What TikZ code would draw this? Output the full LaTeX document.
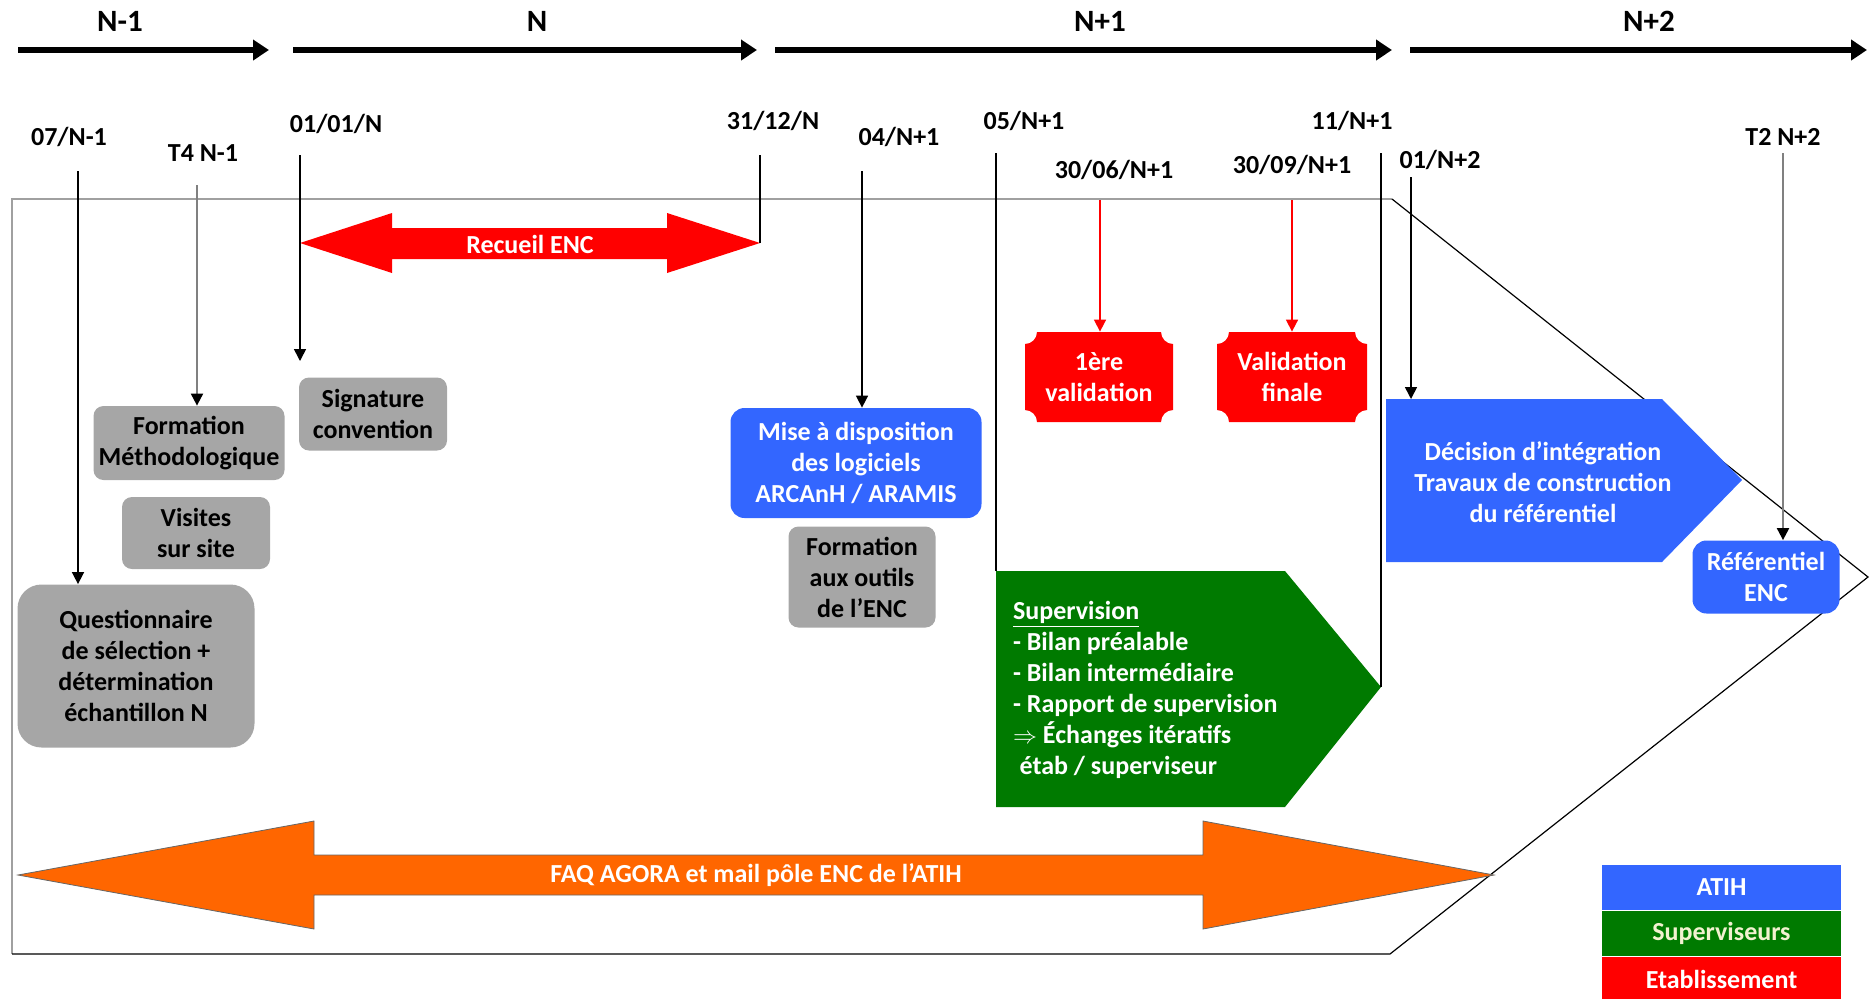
\documentclass[tikz,border=0pt]{standalone}
\usepackage{fontspec}
\setmainfont{Carlito}
\usetikzlibrary{arrows.meta, positioning}

\definecolor{atih}{HTML}{3366FF}
\definecolor{superv}{HTML}{007A00}
\definecolor{etab}{HTML}{FF0000}
\definecolor{faq}{HTML}{FF6600}
\definecolor{boxgray}{HTML}{A6A6A6}
\definecolor{framegray}{HTML}{A0A0A0}
\definecolor{cream}{HTML}{F2F2D0}

\newcommand\plaquebox[4]{%
  \fill[etab] ({#1+12},#2) -- ({#3-12},#2) arc[start angle=180,end angle=270,radius=6pt]
    -- (#3,{#4-12}) arc[start angle=90,end angle=180,radius=6pt]
    -- ({#1+12},#4) arc[start angle=0,end angle=90,radius=6pt]
    -- (#1,{#2+12}) arc[start angle=270,end angle=360,radius=6pt] -- cycle;}

\begin{document}
\begin{tikzpicture}[x=0.5pt, y=-0.5pt,
  every node/.style={font=\fontsize{13}{15.5}\selectfont\bfseries, align=center},
  yearlab/.style={font=\fontsize{15.5}{18}\selectfont\bfseries},
  period/.style={line width=3pt, -{Triangle[length=8pt,width=10pt]}},
  tick/.style={line width=0.8pt, -{Triangle[length=6pt,width=6pt]}},
  graytick/.style={line width=1pt, draw=gray, -{Triangle[length=6pt,width=6pt,color=black]}},
  plain/.style={line width=0.8pt},
  graybox/.style={fill=boxgray, rounded corners=5pt, inner sep=2pt},
  atihbox/.style={fill=atih, text=white, rounded corners=7pt},
  legend/.style={minimum width=119.5pt, minimum height=22.5pt, inner sep=0pt, text=white}]

  \useasboundingbox (0,0) rectangle (1874,998);

  \foreach \xa/\xb/\xl/\t [count=\i] in {18/269/120/N-1, 293/757/537/N, 775/1392/1100/N+1, 1410/1867/1649/N+2} {
    \draw[period] (\xa,50) -- (\xb,50);
    \node[yearlab] (year\i) at (\xl,21) {\t};
  }

  \draw[framegray, line width=1.2pt] (12,954) -- (12,199) -- (1392,199);
  \draw[line width=0.6pt] (1392,199) -- (1868,577) -- (1390,954) -- (12,954);

  \draw[fill=faq, draw=black!60, line width=0.4pt] (18,875) coordinate (faqL) -- (314,821) -- (314,855) -- (1203,855) -- (1203,821)
    -- (1494,875) coordinate (faqR) -- (1203,929) -- (1203,895) -- (314,895) -- (314,929) -- cycle;
  \node[text=white] (faq) at (756,875) {FAQ AGORA et mail pôle ENC de l’ATIH};

  \fill[etab] (300,243) coordinate (recL) -- (392,213) -- (392,228) -- (667,228) -- (667,213)
    -- (760,243) coordinate (recR) -- (667,273) -- (667,259) -- (392,259) -- (392,273) -- cycle;
  \node[text=white] (rec) at (530,244) {Recueil ENC};

  \node[graybox, minimum width=95.5pt, minimum height=37pt] (fmeth) at (189,443) {Formation\\Méthodologique};
  \node[graybox, minimum width=74pt, minimum height=36.5pt] (sig) at (373,414) {Signature\\convention};
  \node[graybox, minimum width=74pt, minimum height=36pt] (vis) at (196,533) {Visites\\sur site};
  \node[graybox, rounded corners=12pt, minimum width=118.5pt, minimum height=81.5pt] (quest) at (136,666)
    {Questionnaire\\de sélection +\\détermination\\échantillon N};
  \node[graybox, minimum width=73.5pt, minimum height=50.5pt] (fout) at (862,577) {Formation\\aux outils\\de l’ENC};

  \node[atihbox, minimum width=125.5pt, minimum height=55pt] (mise) at (856,463) {Mise à disposition\\des logiciels\\ARCAnH / ARAMIS};
  \node[atihbox, minimum width=73.5pt, minimum height=36.5pt] (ref) at (1766,577) {Référentiel\\ENC};

  \fill[atih] (1386,399) coordinate (decNW) -- (1662,399) -- (1742,480) -- (1662,562) -- (1386,562) -- cycle;
  \node[text=white] (dec) at (1543,482) {Décision d’intégration\\Travaux de construction\\du référentiel};

  \fill[superv] (996,571) coordinate (supNW) -- (1285,571) -- (1381,687) coordinate (supTip) -- (1285,807) -- (996,807) -- cycle;
  \node[text=white, anchor=west, align=left] (sup) at (1006,690)
    {\underline{Supervision}\\- Bilan préalable\\- Bilan intermédiaire\\- Rapport de supervision\\$\Rightarrow$ Échanges itératifs\\\hspace*{0.25em}étab / superviseur};

  \plaquebox{1025}{332}{1173}{422}
  \node[text=white, minimum width=74pt, minimum height=45pt] (val1) at (1099,377) {1ère\\validation};
  \plaquebox{1217}{332}{1367}{422}
  \node[text=white, minimum width=75pt, minimum height=45pt] (valf) at (1292,377) {Validation\\finale};

  \node[legend, fill=atih] (leg1) at (1721.5,887.5) {ATIH};
  \node[legend, fill=superv, text=cream, below=0pt of leg1] (leg2) {Superviseurs};
  \node[legend, fill=etab, below=0pt of leg2] (leg3) {Etablissement};

  \node (d07) at (69,137) {07/N-1};
  \node (dT4) at (203,153) {T4 N-1};
  \node (d0101) at (336,124) {01/01/N};
  \node (d3112) at (773,121) {31/12/N};
  \node (d04) at (899,137) {04/N+1};
  \node (d05) at (1024,121) {05/N+1};
  \node (d3006) at (1114,170) {30/06/N+1};
  \node (d3009) at (1292,165) {30/09/N+1};
  \node (d11) at (1352,121) {11/N+1};
  \node (d01n2) at (1440,160) {01/N+2};
  \node (dT2) at (1783,137) {T2 N+2};

  \coordinate (s07) at (78,171);
  \coordinate (sT4) at (197,185);
  \coordinate (s0101) at (300,155);
  \coordinate (e0101) at (300,361);
  \coordinate (s3112) at (760,155);
  \coordinate (s04) at (862,171);
  \coordinate (s05) at (996,153);
  \coordinate (s3006) at (1100,200);
  \coordinate (s3009) at (1292,200);
  \coordinate (s11) at (1381,153);
  \coordinate (s01n2) at (1411,177);
  \coordinate (sT2) at (1783,153);

  \draw[tick] (s07) -- (quest.north -| s07);
  \draw[graytick] (sT4) -- (fmeth.north -| sT4);
  \draw[tick] (s0101) -- (e0101);
  \draw[plain] (s3112) -- (recR);
  \draw[tick] (s04) -- (mise.north -| s04);
  \draw[plain] (s05) -- (supNW);
  \draw[tick, etab] (s3006) -- (val1.north -| s3006);
  \draw[tick, etab] (s3009) -- (valf.north -| s3009);
  \draw[plain] (s11) -- (supTip);
  \draw[tick] (s01n2) -- (decNW -| s01n2);
  \draw[graytick] (sT2) -- (ref.north -| sT2);

\end{tikzpicture}
\end{document}
